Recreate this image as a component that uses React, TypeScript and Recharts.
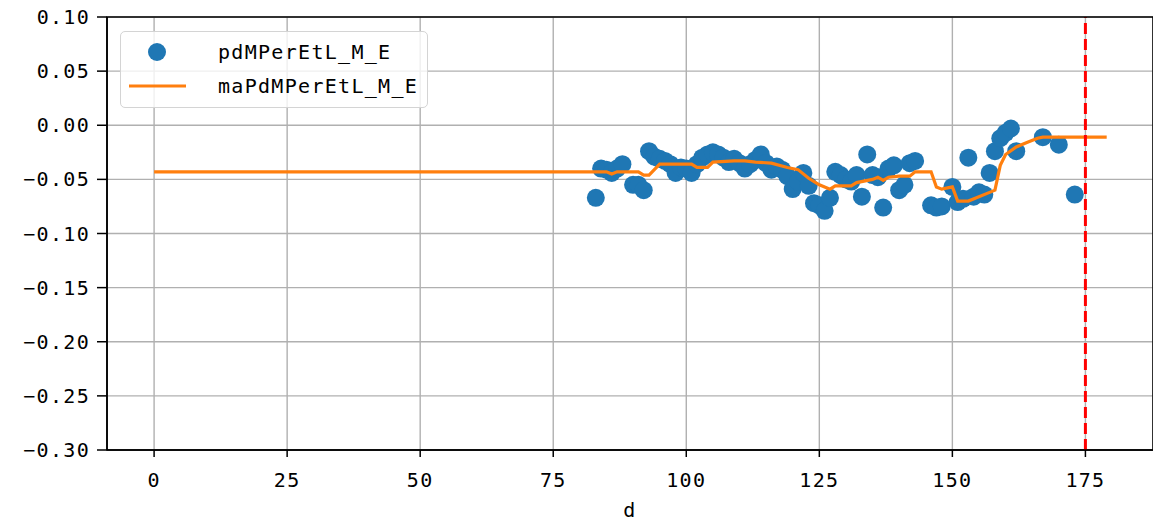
import React from 'react';
import {
  ComposedChart,
  Scatter,
  Line,
  XAxis,
  YAxis,
  CartesianGrid,
  ReferenceLine,
  ReferenceArea,
} from 'recharts';

// Observed daily values of pdMPerEtL_M_E
const pointDays = [
  83, 84, 85, 86, 87, 88, 90, 91, 92, 93, 94, 95, 96, 97, 98, 99, 100, 101, 102, 103,
  104, 105, 106, 107, 108, 109, 110, 111, 112, 113, 114, 115, 116, 117, 118, 119, 120, 121, 122, 123,
  124, 125, 126, 127, 128, 129, 130, 131, 132, 133, 134, 135, 136, 137, 138, 139, 140, 141, 142, 143,
  146, 147, 148, 150, 151, 152, 153, 154, 155, 156, 157, 158, 159, 160, 161, 162, 167, 170, 173,
];
const pointValues = [
  -0.067, -0.04, -0.041, -0.044, -0.04, -0.036, -0.055, -0.055, -0.06, -0.024, -0.029, -0.031, -0.033, -0.036, -0.044, -0.039, -0.04, -0.044, -0.036, -0.03,
  -0.027, -0.025, -0.027, -0.03, -0.034, -0.031, -0.035, -0.04, -0.036, -0.032, -0.027, -0.035, -0.041, -0.038, -0.041, -0.047, -0.059, -0.052, -0.044, -0.056,
  -0.072, -0.074, -0.079, -0.067, -0.043, -0.046, -0.05, -0.052, -0.046, -0.066, -0.027, -0.046, -0.048, -0.076, -0.04, -0.037, -0.06, -0.055, -0.035, -0.033,
  -0.074, -0.076, -0.075, -0.057, -0.071, -0.068, -0.03, -0.066, -0.062, -0.064, -0.044, -0.024, -0.012, -0.007, -0.003, -0.024, -0.011, -0.018, -0.064,
];

// Moving average maPdMPerEtL_M_E (line vertices)
const maDays = [
  0, 83, 85, 86, 87, 91, 92, 93, 95, 101, 102, 104, 105, 109, 111, 113, 116, 119, 121, 123,
  125, 127, 128, 131, 132, 135, 136, 137, 138, 140, 142, 143, 146, 147, 148, 150, 151, 153, 157, 158,
  159, 160, 162, 164, 166, 167, 179,
];
const maValues = [
  -0.043, -0.043, -0.043, -0.045, -0.043, -0.043, -0.046, -0.046, -0.036, -0.036, -0.039, -0.039, -0.034, -0.033, -0.033, -0.034, -0.035, -0.039, -0.041, -0.049,
  -0.055, -0.059, -0.056, -0.056, -0.053, -0.05, -0.048, -0.051, -0.048, -0.047, -0.047, -0.043, -0.043, -0.057, -0.059, -0.057, -0.07, -0.07, -0.062, -0.06,
  -0.037, -0.027, -0.02, -0.016, -0.012, -0.011, -0.011,
];

const xTicks = [0, 25, 50, 75, 100, 125, 150, 175];
const yTicks = [-0.3, -0.25, -0.2, -0.15, -0.1, -0.05, 0, 0.05, 0.1];
const markerDay = 175;

const X_DOMAIN: [number, number] = [-8.85, 187.7];
const Y_DOMAIN: [number, number] = [-0.3, 0.1];

const BLUE = '#1f77b4';
const ORANGE = '#ff7f0e';
const FONT = '"DejaVu Sans Mono", "Liberation Mono", monospace';

const points = pointDays.map((d, i) => ({ d, v: pointValues[i] }));
const maLine = maDays.map((d, i) => ({ d, ma: maValues[i] }));

const fmtY = (v: number) => (v < 0 ? '\u2212' : '') + Math.abs(v).toFixed(2);

const tickStyle = { fontFamily: FONT, fontSize: 20, fill: '#000', letterSpacing: 1.3 };

const Dot = (props: any) => {
  const { cx, cy } = props;
  if (cx == null || cy == null) return null;
  return <circle cx={cx} cy={cy} r={9} fill={BLUE} />;
};

const LegendBox = () => (
  <div
    style={{
      position: 'absolute',
      left: 120,
      top: 31,
      width: 308,
      height: 77,
      boxSizing: 'border-box',
      border: '1px solid #d4d4d4',
      borderRadius: 5,
      background: 'rgba(255,255,255,0.8)',
    }}
  >
    <svg width={306} height={75} style={{ display: 'block' }}>
      <circle cx={36} cy={20} r={9} fill={BLUE} />
      <line x1={8} x2={65} y1={54} y2={54} stroke={ORANGE} strokeWidth={3.2} />
      <text x={97} y={20} dy="0.36em" style={{ ...tickStyle }}>
        pdMPerEtL_M_E
      </text>
      <text x={97} y={54} dy="0.36em" style={{ ...tickStyle }}>
        maPdMPerEtL_M_E
      </text>
    </svg>
  </div>
);

export default function App() {
  return (
    <div style={{ position: 'absolute', left: 0, top: 0, width: 1153, height: 521, background: '#fff' }}>
      <ComposedChart width={1153} height={521} margin={{ top: 17, right: 0, bottom: 0, left: 0 }}>
        <CartesianGrid stroke="#b0b0b0" strokeWidth={1.4} />
        <XAxis
          type="number"
          dataKey="d"
          domain={X_DOMAIN}
          ticks={xTicks}
          allowDataOverflow
          height={71}
          tickSize={7}
          tickMargin={16}
          tick={tickStyle}
          axisLine={{ stroke: '#000', strokeWidth: 1.5 }}
          tickLine={{ stroke: '#000', strokeWidth: 1.5 }}
          label={{ value: 'd', position: 'insideBottom', offset: 4, style: { ...tickStyle } }}
        />
        <YAxis
          type="number"
          domain={Y_DOMAIN}
          ticks={yTicks}
          allowDataOverflow
          width={107}
          tickSize={10}
          tickMargin={7}
          tickFormatter={fmtY}
          tick={tickStyle}
          axisLine={{ stroke: '#000', strokeWidth: 1.5 }}
          tickLine={{ stroke: '#000', strokeWidth: 1.5 }}
        />
        <Scatter data={points} dataKey="v" shape={<Dot />} isAnimationActive={false} zIndex={600} />
        <Line
          data={maLine}
          dataKey="ma"
          type="linear"
          stroke={ORANGE}
          strokeWidth={3.2}
          dot={false}
          activeDot={false}
          isAnimationActive={false}
          zIndex={700}
        />
        <ReferenceLine x={markerDay} stroke="#ff0000" strokeWidth={3} strokeDasharray="11 5" zIndex={800} />
        <ReferenceArea
          x1={X_DOMAIN[0]}
          x2={X_DOMAIN[1]}
          y1={Y_DOMAIN[0]}
          y2={Y_DOMAIN[1]}
          fill="none"
          stroke="#000"
          strokeWidth={1.5}
          fillOpacity={0}
          zIndex={900}
        />
      </ComposedChart>
      <LegendBox />
    </div>
  );
}
